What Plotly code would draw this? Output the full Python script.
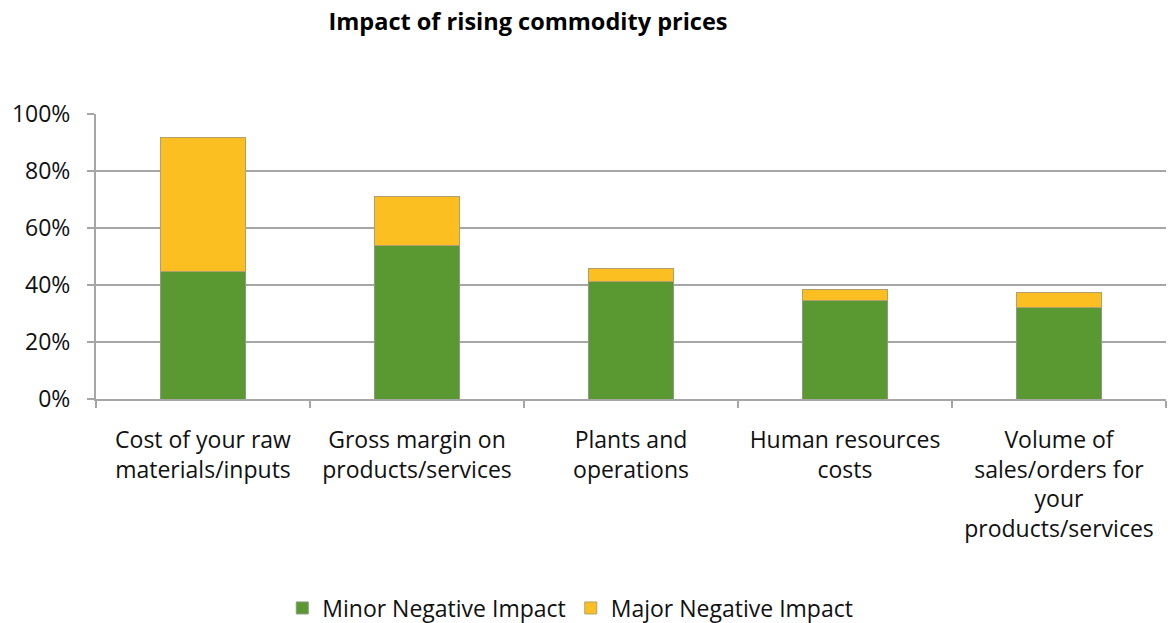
import plotly.graph_objects as go

categories = [
    "Cost of your raw<br>materials/inputs",
    "Gross margin on<br>products/services",
    "Plants and<br>operations",
    "Human resources<br>costs",
    "Volume of<br>sales/orders for<br>your<br>products/services",
]
minor = [44.6, 53.7, 41.2, 34.7, 32.2]
major = [47.0, 17.2, 4.7, 3.8, 5.2]
tick_vals = [0, 20, 40, 60, 80, 100]
tick_labels = ["0%", "20%", "40%", "60%", "80%", "100%"]

FONT = "Open Sans"

fig = go.Figure()
fig.add_trace(go.Bar(
    x=categories, y=minor, name="Minor Negative Impact",
    marker=dict(color="#5a9832", line=dict(color="#8a9a80", width=1)),
    width=0.4,
))
fig.add_trace(go.Bar(
    x=categories, y=major, name="Major Negative Impact",
    marker=dict(color="#fbbf22", line=dict(color="#b0a070", width=1)),
    width=0.4,
))

fig.update_layout(
    width=1171, height=623,
    barmode="stack",
    plot_bgcolor="white", paper_bgcolor="white",
    margin=dict(l=96, r=5, t=114, b=224, autoexpand=False),
    font=dict(family=FONT, size=23, color="#111111"),
    title=dict(
        text="<b>Impact of rising commodity prices</b>",
        x=528/1171, xanchor="center", xref="container",
        y=1-22/623, yanchor="middle", yref="container",
        font=dict(family=FONT, size=23.5, color="#000000"),
    ),
    legend=dict(
        orientation="h", x=0.487, xanchor="center", xref="container",
        y=1-608/623, yanchor="middle", yref="container",
        font=dict(family=FONT, size=23, color="#111111"),
        traceorder="normal", itemwidth=30,
    ),
    showlegend=True,
)
fig.update_yaxes(
    range=[0, 100], tickvals=tick_vals, ticktext=tick_labels,
    showgrid=True, gridcolor="#a6a6a6", gridwidth=2,
    showline=True, linecolor="#a6a6a6", linewidth=2,
    ticks="outside", ticklen=7, tickcolor="#a6a6a6", tickwidth=2,
    zeroline=False, ticklabelstandoff=12,
)
fig.update_xaxes(
    showline=True, linecolor="#a6a6a6", linewidth=2,
    ticks="outside", ticklen=7, tickcolor="#a6a6a6", tickwidth=2,
    tickson="boundaries", showgrid=False, ticklabelstandoff=19,
)

fig.write_html("out.html")
